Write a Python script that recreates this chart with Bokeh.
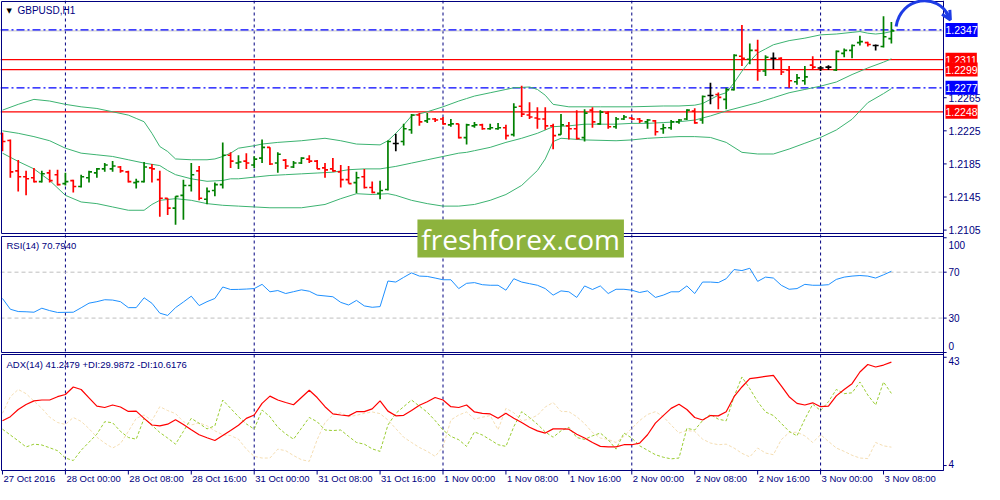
import numpy as np
from bokeh.plotting import figure
from bokeh.models import (Range1d, Span, BoxAnnotation, Label,
                          ColumnDataSource, Arrow, OpenHead)
from bokeh.embed import file_html
from bokeh.resources import INLINE

# ---------------- data ----------------
SYMBOL = "GBPUSD,H1"
RSI_TITLE = "RSI(14) 70.7940"
ADX_TITLE = "ADX(14) 41.2479 +DI:29.9872 -DI:10.6176"
WATERMARK = "freshforex.com"

TIME_LABELS = ["27 Oct 2016", "28 Oct 00:00", "28 Oct 08:00", "28 Oct 16:00",
               "31 Oct 00:00", "31 Oct 08:00", "31 Oct 16:00", "1 Nov 00:00",
               "1 Nov 08:00", "1 Nov 16:00", "2 Nov 00:00", "2 Nov 08:00",
               "2 Nov 16:00", "3 Nov 00:00", "3 Nov 08:00"]
TIME_LABEL_BARS = [0, 8, 16, 24, 32, 40, 48, 56, 64, 72, 80, 88, 96, 104, 112]
DAY_BREAK_BARS = [8, 32, 56, 80, 104]

OPEN = [1.22216, 1.22133, 1.21766, 1.21695, 1.21683, 1.21636, 1.21742, 1.21719, 1.21612, 1.21648,
        1.21577, 1.21683, 1.21742, 1.21790, 1.21790, 1.21813, 1.21754, 1.21624, 1.21636, 1.21802,
        1.21660, 1.21435, 1.21316, 1.21470, 1.21589, 1.21766, 1.21423, 1.21529, 1.21600, 1.21955,
        1.21861, 1.21884, 1.21837, 1.21920, 1.22050, 1.21861, 1.21896, 1.21813, 1.21861, 1.21908,
        1.21884, 1.21802, 1.21790, 1.21754, 1.21660, 1.21624, 1.21695, 1.21565, 1.21494, 1.21541,
        1.22097, 1.22121, 1.22263, 1.22441, 1.22370, 1.22393, 1.22393, 1.22322, 1.22334, 1.22168,
        1.22310, 1.22322, 1.22275, 1.22275, 1.22287, 1.22204, 1.22547, 1.22441, 1.22405, 1.22393,
        1.22310, 1.22204, 1.22310, 1.22275, 1.22168, 1.22500, 1.22334, 1.22464, 1.22299, 1.22393,
        1.22405, 1.22393, 1.22358, 1.22370, 1.22275, 1.22287, 1.22358, 1.22393, 1.22488, 1.22381,
        1.22677, 1.22689, 1.22630, 1.22748, 1.23151, 1.23115, 1.23222, 1.22973, 1.23127, 1.23127,
        1.22985, 1.22843, 1.22855, 1.23044, 1.23009, 1.23021, 1.22985, 1.23186, 1.23222, 1.23316,
        1.23316, 1.23281, 1.23269, 1.23364]
HIGH = [1.22228, 1.22145, 1.21896, 1.21766, 1.21802, 1.21766, 1.21778, 1.21778, 1.21742, 1.21660,
        1.21719, 1.21766, 1.21802, 1.21861, 1.21884, 1.21825, 1.21766, 1.21671, 1.21873, 1.21849,
        1.21766, 1.21435, 1.21458, 1.21660, 1.21861, 1.21825, 1.21565, 1.21624, 1.22109, 1.21991,
        1.21955, 1.21979, 1.21944, 1.22145, 1.22050, 1.21991, 1.21908, 1.21884, 1.21932, 1.21955,
        1.21896, 1.21861, 1.21920, 1.21837, 1.21825, 1.21754, 1.21790, 1.21636, 1.21648, 1.22133,
        1.22216, 1.22334, 1.22452, 1.22464, 1.22464, 1.22405, 1.22417, 1.22393, 1.22334, 1.22334,
        1.22358, 1.22334, 1.22334, 1.22346, 1.22322, 1.22583, 1.22796, 1.22594, 1.22535, 1.22535,
        1.22334, 1.22452, 1.22358, 1.22500, 1.22512, 1.22535, 1.22500, 1.22488, 1.22417, 1.22441,
        1.22417, 1.22405, 1.22393, 1.22381, 1.22334, 1.22381, 1.22393, 1.22512, 1.22523, 1.22677,
        1.22831, 1.22713, 1.22772, 1.23174, 1.23529, 1.23305, 1.23352, 1.23163, 1.23198, 1.23139,
        1.23032, 1.22938, 1.23032, 1.23151, 1.23032, 1.23044, 1.23222, 1.23245, 1.23293, 1.23399,
        1.23328, 1.23293, 1.23636, 1.23565]
LOW = [1.22003, 1.21683, 1.21518, 1.21470, 1.21624, 1.21624, 1.21624, 1.21589, 1.21589, 1.21506,
       1.21565, 1.21624, 1.21683, 1.21754, 1.21754, 1.21742, 1.21624, 1.21553, 1.21624, 1.21624,
       1.21210, 1.21234, 1.21115, 1.21174, 1.21518, 1.21411, 1.21364, 1.21458, 1.21553, 1.21802,
       1.21790, 1.21790, 1.21802, 1.21861, 1.21837, 1.21742, 1.21790, 1.21802, 1.21849, 1.21861,
       1.21790, 1.21683, 1.21754, 1.21565, 1.21612, 1.21494, 1.21553, 1.21494, 1.21423, 1.21529,
       1.22003, 1.22074, 1.22216, 1.22310, 1.22346, 1.22358, 1.22322, 1.22299, 1.22157, 1.22086,
       1.22287, 1.22263, 1.22263, 1.22263, 1.22145, 1.22180, 1.22417, 1.22393, 1.22275, 1.22263,
       1.22026, 1.22204, 1.22145, 1.22145, 1.22121, 1.22287, 1.22322, 1.22275, 1.22275, 1.22381,
       1.22381, 1.22346, 1.22275, 1.22192, 1.22216, 1.22263, 1.22334, 1.22381, 1.22334, 1.22334,
       1.22571, 1.22512, 1.22512, 1.22736, 1.23032, 1.23056, 1.22855, 1.22914, 1.22997, 1.22926,
       1.22772, 1.22807, 1.22807, 1.22997, 1.22973, 1.22985, 1.22973, 1.23139, 1.23127, 1.23281,
       1.23269, 1.23222, 1.23257, 1.23305]
CLOSE = [1.22121, 1.21754, 1.21695, 1.21671, 1.21636, 1.21731, 1.21648, 1.21600, 1.21636, 1.21577,
         1.21695, 1.21754, 1.21790, 1.21837, 1.21825, 1.21766, 1.21636, 1.21636, 1.21813, 1.21790,
         1.21435, 1.21316, 1.21458, 1.21589, 1.21719, 1.21435, 1.21518, 1.21600, 1.21955, 1.21884,
         1.21873, 1.21861, 1.21908, 1.22050, 1.21849, 1.21967, 1.21825, 1.21861, 1.21920, 1.21884,
         1.21790, 1.21778, 1.21766, 1.21660, 1.21612, 1.21683, 1.21565, 1.21506, 1.21529, 1.22121,
         1.22097, 1.22275, 1.22441, 1.22358, 1.22393, 1.22381, 1.22334, 1.22334, 1.22168, 1.22322,
         1.22322, 1.22275, 1.22287, 1.22287, 1.22192, 1.22535, 1.22452, 1.22417, 1.22393, 1.22310,
         1.22192, 1.22322, 1.22275, 1.22157, 1.22464, 1.22358, 1.22476, 1.22299, 1.22393, 1.22417,
         1.22393, 1.22370, 1.22381, 1.22239, 1.22287, 1.22358, 1.22381, 1.22500, 1.22346, 1.22665,
         1.22677, 1.22654, 1.22748, 1.23163, 1.23127, 1.23222, 1.22973, 1.23139, 1.23127, 1.22961,
         1.22855, 1.22890, 1.22902, 1.23021, 1.23009, 1.23021, 1.23210, 1.23222, 1.23281, 1.23328,
         1.23293, 1.23281, 1.23387, 1.23458]

BB_UP_BARS = [0, 2, 4, 6, 8, 10, 12, 14, 16, 17, 18, 19, 20, 21, 22, 24, 26, 27, 28, 29,
              30, 32, 33, 35, 38, 41, 43, 45, 48, 49, 50, 51, 52, 54, 56, 58, 59, 60, 62, 64,
              65, 67, 68, 69, 70, 72, 76, 80, 84, 86, 88, 89, 90, 91, 92, 93, 94, 95, 96, 97,
              98, 100, 102, 104, 106, 108, 109, 110, 111, 112, 113]
BB_UP = [1.2250, 1.2257, 1.2263, 1.2261, 1.2257, 1.2254, 1.2252, 1.2248, 1.2244, 1.2240,
         1.2236, 1.2222, 1.2206, 1.2200, 1.2191, 1.2190, 1.2190, 1.2191, 1.2194, 1.2198,
         1.2204, 1.2207, 1.2209, 1.2211, 1.2213, 1.2216, 1.2213, 1.2209, 1.2208, 1.2213,
         1.2222, 1.2232, 1.2243, 1.2248, 1.2254, 1.2261, 1.2264, 1.2267, 1.2271, 1.2275,
         1.2277, 1.2278, 1.2275, 1.2268, 1.2257, 1.2254, 1.2254, 1.2254, 1.2255, 1.2255,
         1.2256, 1.2258, 1.2263, 1.2268, 1.2271, 1.2283, 1.2297, 1.2309, 1.2319, 1.2324,
         1.2329, 1.2334, 1.2337, 1.2341, 1.2342, 1.2344, 1.2345, 1.2343, 1.2342, 1.2343, 1.2345]
BB_MID_BARS = [0, 2, 4, 6, 8, 10, 12, 14, 16, 18, 20, 21, 22, 24, 26, 28, 29, 30, 32, 34,
               36, 38, 40, 42, 44, 46, 48, 50, 52, 54, 56, 58, 59, 60, 62, 64, 66, 68, 70, 72,
               74, 78, 80, 82, 84, 86, 88, 90, 92, 94, 96, 98, 100, 102, 104, 106, 108, 110, 112, 113]
BB_MID = [1.2225, 1.2222, 1.2218, 1.2213, 1.2204, 1.2198, 1.2196, 1.2194, 1.2190, 1.2186,
          1.2183, 1.2177, 1.2172, 1.2167, 1.2164, 1.2165, 1.2167, 1.2167, 1.2169, 1.2171,
          1.2172, 1.2173, 1.2174, 1.2175, 1.2178, 1.2179, 1.2179, 1.2182, 1.2186, 1.2190,
          1.2194, 1.2198, 1.2199, 1.2201, 1.2205, 1.2211, 1.2216, 1.2222, 1.2230, 1.2231,
          1.2233, 1.2233, 1.2234, 1.2234, 1.2235, 1.2236, 1.2238, 1.2243, 1.2249, 1.2254,
          1.2259, 1.2265, 1.2271, 1.2275, 1.2279, 1.2284, 1.2293, 1.2301, 1.2308, 1.2312]
BB_LOW_BARS = [0, 2, 4, 6, 8, 10, 12, 14, 16, 18, 19, 20, 22, 24, 26, 28, 30, 32, 34, 38,
               41, 43, 45, 47, 49, 50, 52, 54, 56, 58, 60, 62, 64, 66, 68, 69, 70, 71, 74, 78,
               80, 82, 84, 86, 88, 90, 92, 94, 96, 98, 100, 102, 104, 106, 108, 110, 112, 113]
BB_LOW = [1.2198, 1.2188, 1.2179, 1.2165, 1.2147, 1.2139, 1.2137, 1.2133, 1.2129, 1.2129,
          1.2136, 1.2141, 1.2143, 1.2141, 1.2137, 1.2135, 1.2134, 1.2133, 1.2132, 1.2132,
          1.2136, 1.2143, 1.2149, 1.2148, 1.2149, 1.2147, 1.2141, 1.2137, 1.2134, 1.2134,
          1.2136, 1.2141, 1.2148, 1.2159, 1.2177, 1.2191, 1.2212, 1.2216, 1.2214, 1.2213,
          1.2214, 1.2216, 1.2217, 1.2218, 1.2218, 1.2217, 1.2211, 1.2199, 1.2197, 1.2197,
          1.2203, 1.2210, 1.2217, 1.2226, 1.2239, 1.2259, 1.2270, 1.2276]

BLUE_LEVELS = [1.2347, 1.2277]
RED_LEVELS = [1.2311, 1.2299, 1.2248]
PRICE_TICKS = [1.2105, 1.2145, 1.2185, 1.2225, 1.2265]

RSI = [47.1, 37.7, 35.7, 35.5, 35.1, 38.6, 36.5, 34.9, 35.0, 35.1,
       39.0, 43.0, 44.3, 46.0, 45.7, 44.3, 39.1, 39.1, 47.7, 42.9,
       34.3, 32.3, 39.1, 44.0, 49.1, 40.9, 44.3, 47.1, 57.1, 54.9,
       55.0, 55.3, 55.7, 59.4, 52.9, 54.0, 51.4, 53.0, 54.6, 53.4,
       50.0, 49.3, 48.6, 43.7, 41.4, 45.4, 40.6, 39.4, 40.0, 62.3,
       61.4, 65.5, 69.4, 66.6, 66.3, 64.9, 63.4, 63.4, 55.7, 60.3,
       60.9, 59.1, 58.6, 58.6, 54.3, 64.3, 61.4, 60.0, 58.6, 55.7,
       50.0, 53.7, 52.9, 48.0, 58.0, 54.9, 58.0, 51.4, 55.1, 55.1,
       54.3, 52.3, 53.7, 48.0, 50.0, 52.9, 52.9, 58.0, 51.4, 61.4,
       61.4, 60.9, 64.3, 72.3, 71.4, 73.4, 62.0, 65.7, 64.9, 58.6,
       55.1, 55.7, 59.4, 58.6, 58.6, 59.1, 63.7, 65.7, 66.6, 67.1,
       66.6, 64.9, 67.7, 70.79]
RSI_LEVELS = [30, 70]
RSI_TICKS = [100, 70, 30, 0]

ADX = [20.1, 21.6, 24.2, 26.0, 27.3, 27.6, 27.6, 28.8, 29.6, 32.3,
       31.4, 28.4, 25.4, 24.9, 25.8, 25.1, 23.5, 23.6, 21.0, 18.6,
       18.3, 18.9, 20.5, 18.8, 16.9, 15.1, 14.0, 13.0, 14.8, 16.6,
       18.5, 21.0, 22.2, 26.4, 29.0, 27.6, 26.7, 25.9, 28.5, 31.1,
       28.5, 25.2, 22.6, 22.2, 21.9, 23.4, 23.4, 24.4, 27.3, 23.6,
       21.9, 22.1, 23.8, 25.7, 27.0, 28.5, 27.6, 25.2, 24.9, 25.8,
       23.3, 22.8, 22.6, 21.0, 22.8, 21.0, 19.5, 17.8, 16.5, 15.7,
       17.2, 17.2, 17.1, 15.3, 13.9, 12.3, 10.9, 10.7, 10.7, 11.5,
       11.5, 12.1, 15.1, 19.3, 22.0, 24.6, 26.1, 24.2, 21.3, 20.4,
       22.0, 21.9, 23.4, 28.8, 32.3, 35.3, 35.7, 36.1, 36.5, 32.7,
       28.8, 26.4, 25.8, 26.6, 25.2, 25.4, 29.1, 31.4, 33.5, 37.7,
       40.4, 39.5, 40.2, 41.25]
PLUS_DI = [17.1, 15.0, 12.9, 10.7, 11.7, 11.4, 10.4, 9.35, 6.7, 5.8,
           9.5, 12.4, 15.3, 19.8, 19.4, 16.3, 14.1, 13.5, 21.0, 18.5,
           15.9, 13.9, 11.7, 16.3, 21.0, 19.2, 17.2, 18.3, 27.6, 24.6,
           21.6, 19.0, 17.1, 24.0, 21.6, 17.8, 15.4, 13.5, 17.4, 21.3,
           19.8, 16.8, 16.6, 16.8, 14.5, 12.3, 11.7, 10.0, 9.1, 18.6,
           22.8, 25.2, 27.6, 25.4, 23.2, 20.2, 16.8, 14.5, 13.3, 10.9,
           16.1, 15.0, 13.3, 11.5, 10.9, 18.0, 23.4, 21.3, 18.9, 16.1,
           14.2, 16.5, 17.8, 14.1, 13.4, 14.7, 15.7, 13.3, 9.9, 15.7,
           13.9, 11.1, 9.5, 7.9, 7.0, 6.4, 6.7, 17.4, 16.8, 20.2,
           22.4, 20.7, 20.1, 28.8, 35.9, 31.7, 27.0, 23.3, 22.0, 19.2,
           16.3, 14.7, 20.7, 26.1, 23.8, 27.0, 31.4, 29.9, 30.2, 34.1,
           29.4, 25.8, 34.1, 29.99]
MINUS_DI = [22.8, 28.8, 31.4, 29.9, 27.2, 24.6, 21.4, 19.5, 18.8, 21.3,
            19.9, 17.3, 14.2, 12.1, 10.3, 11.9, 16.3, 21.0, 22.2, 20.2,
            25.2, 23.8, 22.7, 19.8, 18.6, 19.4, 18.3, 16.5, 15.1, 14.8,
            13.5, 9.9, 7.3, 6.7, 6.7, 9.9, 9.35, 7.6, 6.1, 5.5,
            13.3, 19.5, 22.2, 23.0, 21.6, 22.1, 22.8, 23.3, 22.7, 20.4,
            17.3, 14.2, 12.3, 10.5, 9.1, 7.3, 10.7, 20.4, 22.2, 23.3,
            20.7, 21.4, 22.0, 16.9, 24.6, 23.0, 20.1, 20.8, 22.1, 25.1,
            26.7, 23.5, 23.4, 21.6, 19.1, 15.9, 13.9, 13.4, 12.3, 14.5,
            17.4, 20.2, 22.4, 23.4, 21.6, 18.6, 15.7, 16.6, 16.3, 13.5,
            12.1, 11.5, 11.7, 10.3, 8.4, 7.1, 10.3, 8.5, 7.9, 13.3,
            15.9, 16.0, 14.7, 12.3, 15.1, 12.7, 10.3, 9.1, 7.7, 6.7,
            6.5, 12.3, 11.1, 10.62]
ADX_TICKS = [43, 4]

# ---------------- layout / style ----------------
W, H = 984, 484
FW, FH = W, H                            # the plotting frame fills the whole figure
CHART_COLS = (1, 943)                    # columns of the chart area inside the frame
PRICE_BAND = (1, 233)                    # rows of each pane inside the frame
RSI_BAND = (236, 352)
ADX_BAND = (354, 470)
PRICE_SPAN = (1.21009, 1.23813)
RSI_SPAN = (0.0, 101.1)
ADX_SPAN = (2.21, 44.0)
X_SPAN = (-0.125, 119.625)               # bar positions at the chart-area edges
TICK = 0.38
SCALE_TICK = 0.4
TIME_TICK_PX = 4
TIME_LABEL_DROP = 8
WM_BARS = (52.75, 79.0)
WM_ROWS = (219, 257)

NAVY = "#000080"
UP, DOWN, DOJI = "#008000", "#FF0000", "#000000"
BAND = "#3CB371"
FONT = "Liberation Sans"
SMALL = "9.5px"


def per_px(band, span):
    return (span[1] - span[0]) / (band[1] - band[0])


def stretch_y(band, span):
    k = per_px(band, span)
    return Range1d(span[0] - (FH - band[1]) * k, span[1] + band[0] * k)


def stretch_x():
    k = per_px(CHART_COLS, X_SPAN)
    return Range1d(X_SPAN[0] - CHART_COLS[0] * k, X_SPAN[1] + (FW - CHART_COLS[1]) * k)


price_rng = stretch_y(PRICE_BAND, PRICE_SPAN)
rsi_rng = stretch_y(RSI_BAND, RSI_SPAN)
adx_rng = stretch_y(ADX_BAND, ADX_SPAN)


def price_at_row(row):
    return price_rng.end - row * (price_rng.end - price_rng.start) / FH


p = figure(width=W, height=H, x_range=stretch_x(), y_range=price_rng,
           output_backend="svg", toolbar_location=None,
           x_axis_location=None, y_axis_location=None,
           min_border_left=0, min_border_right=0, min_border_top=0, min_border_bottom=0,
           background_fill_color="white", border_fill_color="white",
           outline_line_color=None)
p.extra_y_ranges = {"rsi": rsi_rng, "adx": adx_rng}
p.xgrid.visible = False
p.ygrid.visible = False

# background lines
for b in DAY_BREAK_BARS:
    p.add_layout(Span(location=b, dimension="height", line_color=NAVY,
                      line_dash="3 3", line_width=1, level="underlay"))
p.add_layout(Span(location=CLOSE[-1], dimension="width", line_color="#C8C8C8",
                  line_width=1, level="underlay"))
for lv in RED_LEVELS:
    p.add_layout(Span(location=lv, dimension="width", line_color="#FF0000",
                      line_width=1.2, level="underlay"))
for lv in BLUE_LEVELS:
    p.add_layout(Span(location=lv, dimension="width", line_color="#0000FF",
                      line_dash="8 3 2 3", line_width=1.2, level="underlay"))
for lv in RSI_LEVELS:
    p.add_layout(Span(location=lv, dimension="width", y_range_name="rsi",
                      line_color="#BEBEBE", line_dash="4 3", line_width=1, level="underlay"))

# Bollinger bands
p.line(BB_UP_BARS, BB_UP, line_color=BAND, line_width=1)
p.line(BB_MID_BARS, BB_MID, line_color=BAND, line_width=1)
p.line(BB_LOW_BARS, BB_LOW, line_color=BAND, line_width=1)

# OHLC bars
idx = np.arange(len(CLOSE))
colors = [UP if c > o else (DOWN if c < o else DOJI) for o, c in zip(OPEN, CLOSE)]
src = ColumnDataSource(dict(x=idx, xl=idx - TICK, xr=idx + TICK, o=OPEN, h=HIGH,
                            l=LOW, c=CLOSE, col=colors))
p.segment("x", "l", "x", "h", source=src, line_color="col", line_width=1.7)
p.segment("xl", "o", "x", "o", source=src, line_color="col", line_width=1.7)
p.segment("x", "c", "xr", "c", source=src, line_color="col", line_width=1.7)

# RSI
p.line(idx, RSI, y_range_name="rsi", line_color="#1E90FF", line_width=1)

# ADX
p.line(idx, MINUS_DI, y_range_name="adx", line_color="#F5DEB3", line_dash="3 2", line_width=1)
p.line(idx, PLUS_DI, y_range_name="adx", line_color="#9ACD32", line_dash="3 2", line_width=1)
p.line(idx, ADX, y_range_name="adx", line_color="#FF0000", line_width=1.2)

# blank scale column (right) and time-scale row (bottom)
p.add_layout(BoxAnnotation(left=X_SPAN[1], fill_color="white", fill_alpha=1, line_alpha=0))
p.add_layout(Span(location=X_SPAN[1], dimension="height", line_color=NAVY, line_width=1))
p.add_layout(BoxAnnotation(top=ADX_SPAN[0], y_range_name="adx", fill_color="white",
                           fill_alpha=1, line_alpha=0))

# pane frames
for rng_name, span in [("default", PRICE_SPAN), ("rsi", RSI_SPAN), ("adx", ADX_SPAN)]:
    p.add_layout(BoxAnnotation(left=X_SPAN[0], right=X_SPAN[1], bottom=span[0], top=span[1],
                               y_range_name=rng_name, fill_alpha=0,
                               line_color=NAVY, line_alpha=1, line_width=1))

# hand-drawn arrow
ARROW = "#1E3CE6"
arc = p.bezier(x0=[113.6], y0=[1.2351], x1=[120.3], y1=[1.2363],
               cx0=[114.2], cy0=[1.2388], cx1=[119.0], cy1=[1.2392],
               line_color=ARROW, line_width=3)
arc.level = "overlay"
p.add_layout(Arrow(x_start=119.9, y_start=1.2369, x_end=120.5, y_end=1.2359,
                   line_color=ARROW, line_width=3, level="overlay",
                   end=OpenHead(size=9, line_color=ARROW, line_width=3)))

# watermark
p.add_layout(BoxAnnotation(left=WM_BARS[0], right=WM_BARS[1],
                           top=price_at_row(WM_ROWS[0]), bottom=price_at_row(WM_ROWS[1]),
                           fill_color="#8DB33D", fill_alpha=1, line_alpha=0))
p.add_layout(Label(x=sum(WM_BARS) / 2, y=price_at_row(sum(WM_ROWS) / 2), text=WATERMARK,
                   text_align="center", text_baseline="middle", text_color="white",
                   text_font="Open Sans", text_font_size="28px"))

# titles
p.add_layout(Label(x=X_SPAN[0], y=PRICE_SPAN[1], text="\u25BC", x_offset=5, y_offset=-5,
                   text_baseline="top", text_color="#000000", text_font="DejaVu Sans",
                   text_font_size="7px"))
p.add_layout(Label(x=X_SPAN[0], y=PRICE_SPAN[1], text=SYMBOL, x_offset=16, y_offset=-3,
                   text_baseline="top", text_color=NAVY, text_font=FONT,
                   text_font_size="10px"))
p.add_layout(Label(x=X_SPAN[0], y=RSI_SPAN[1], y_range_name="rsi", text=RSI_TITLE,
                   x_offset=5, y_offset=-3, text_baseline="top", text_color=NAVY,
                   text_font=FONT, text_font_size=SMALL))
p.add_layout(Label(x=X_SPAN[0], y=ADX_SPAN[1], y_range_name="adx", text=ADX_TITLE,
                   x_offset=5, y_offset=-4, text_baseline="top", text_color=NAVY,
                   text_font=FONT, text_font_size=SMALL))


# right-hand scales
def scale(values, texts, rng_name, offsets, size):
    n = len(values)
    ticks = p.segment(x0=[X_SPAN[1]] * n, y0=values, x1=[X_SPAN[1] + SCALE_TICK] * n,
                      y1=values, y_range_name=rng_name, line_color=NAVY, line_width=1)
    ticks.level = "overlay"
    for v, t, o in zip(values, texts, offsets):
        p.add_layout(Label(x=X_SPAN[1], y=v, y_range_name=rng_name, text=t, x_offset=5,
                           y_offset=o, text_baseline="middle", text_color=NAVY,
                           text_font=FONT, text_font_size=size))


scale(PRICE_TICKS, [f"{t:.4f}" for t in PRICE_TICKS], "default", [0] * len(PRICE_TICKS), "10.5px")
scale(RSI_TICKS, [str(v) for v in RSI_TICKS], "rsi", [-7, 0, 0, 7], "10px")
scale(ADX_TICKS, [str(v) for v in ADX_TICKS], "adx", [-4, 2], "10px")

# time scale along the bottom
n_t = len(TIME_LABEL_BARS)
t_ticks = p.segment(x0=TIME_LABEL_BARS, y0=[ADX_SPAN[0]] * n_t, x1=TIME_LABEL_BARS,
                    y1=[ADX_SPAN[0] - TIME_TICK_PX * per_px(ADX_BAND, ADX_SPAN)] * n_t,
                    y_range_name="adx", line_color=NAVY, line_width=1)
t_ticks.level = "overlay"
for b, t in zip(TIME_LABEL_BARS, TIME_LABELS):
    p.add_layout(Label(x=b, y=ADX_SPAN[0], y_range_name="adx", text=t, x_offset=1,
                       y_offset=-TIME_LABEL_DROP, text_baseline="middle", text_align="left",
                       text_color=NAVY, text_font=FONT, text_font_size=SMALL))

# price tags of the horizontal levels
for lv, colr in [(l, "#0000FF") for l in BLUE_LEVELS] + [(l, "#FF0000") for l in RED_LEVELS]:
    p.add_layout(Label(x=X_SPAN[1], y=lv, text=f"{lv:.4f}", x_offset=2,
                       text_baseline="middle", text_color="white", text_font=FONT,
                       text_font_size="10.5px", background_fill_color=colr,
                       background_fill_alpha=1, padding=(0, 3)))

open("out.html", "w").write(file_html(p, INLINE))
